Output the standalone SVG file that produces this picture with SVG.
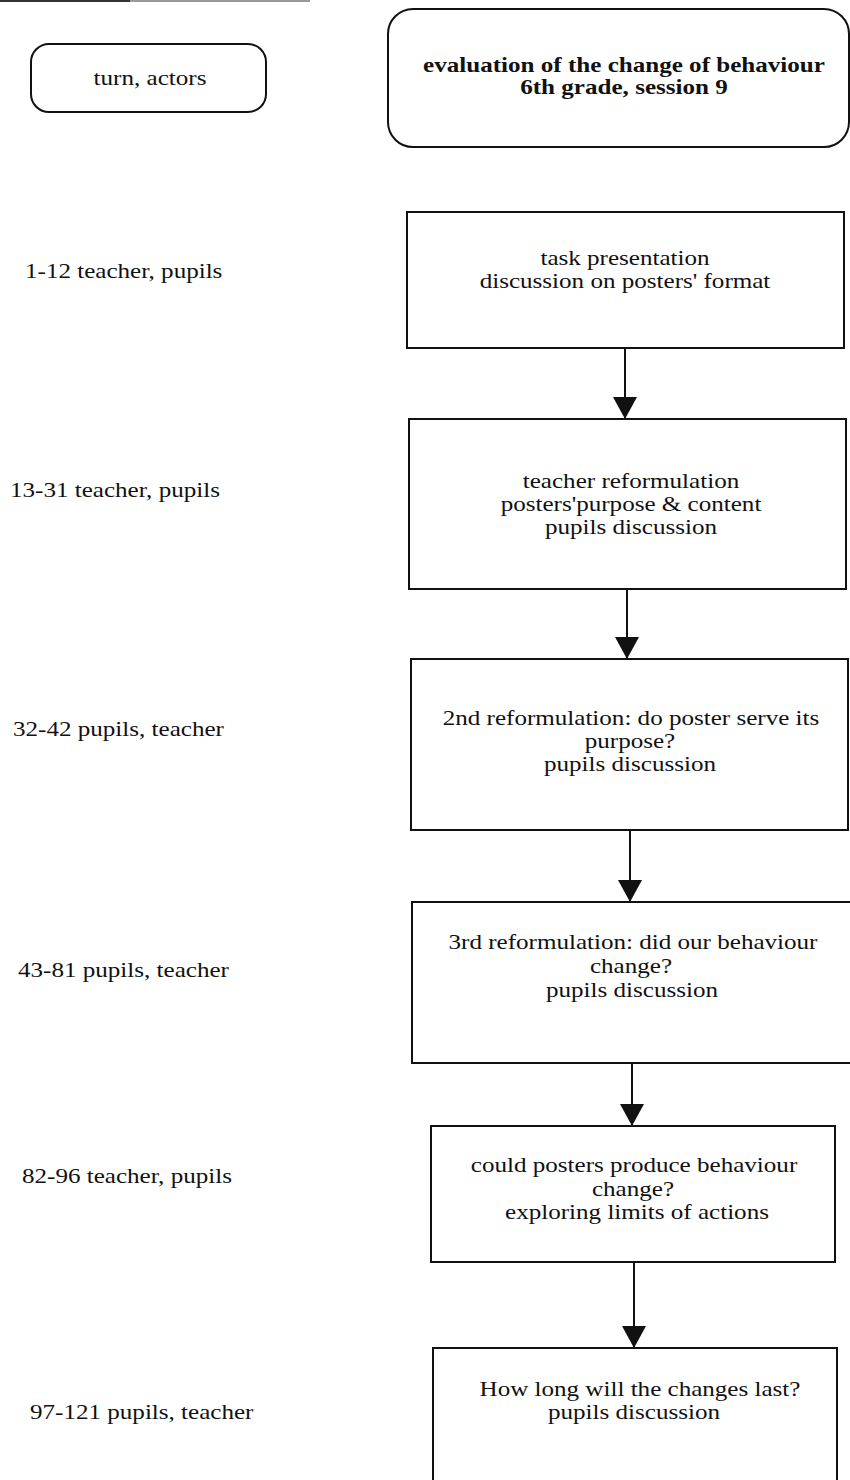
<svg xmlns="http://www.w3.org/2000/svg" width="850" height="1480" viewBox="0 0 850 1480">
<style>
.box{fill:#fff;stroke:#111;stroke-width:2}
.t{font-family:"Liberation Serif","Times New Roman",serif;font-size:22px;fill:#111}
.c{text-anchor:middle}
.b{font-weight:bold}
.conn line{stroke:#111;stroke-width:2}
</style>
<defs>
<marker id="ah" markerUnits="userSpaceOnUse" markerWidth="24" markerHeight="24" refX="22" refY="12" orient="auto" viewBox="0 0 24 24">
<path d="M0,0 L22,12 L0,24 z" fill="#111"/>
</marker>
</defs>
<rect width="850" height="1480" fill="#fff"/>
<line x1="0" y1="1" x2="130" y2="1" stroke="#333" stroke-width="2"/>
<line x1="130" y1="1" x2="310" y2="1" stroke="#999" stroke-width="2"/>

<g id="legend">
<rect class="box" x="31" y="44" width="235" height="68" rx="18"/>
<text class="t c" transform="matrix(1.14 0 0 1 150 85)">turn, actors</text>
</g>
<g id="title">
<rect class="box" x="388" y="9" width="461" height="138" rx="25"/>
<text class="t c b" transform="matrix(1.14 0 0 1 624 72)">evaluation of the change of behaviour</text>
<text class="t c b" transform="matrix(1.14 0 0 1 624 94)">6th grade, session 9</text>
</g>

<g id="n1">
<rect class="box" x="407" y="212" width="437" height="136"/>
<text class="t c" transform="matrix(1.14 0 0 1 625 265)">task presentation</text>
<text class="t c" transform="matrix(1.14 0 0 1 625 288)">discussion on posters' format</text>
</g>
<g id="n2">
<rect class="box" x="409" y="419" width="437" height="170"/>
<text class="t c" transform="matrix(1.14 0 0 1 631 488)">teacher reformulation</text>
<text class="t c" transform="matrix(1.14 0 0 1 631 511)">posters'purpose &amp; content</text>
<text class="t c" transform="matrix(1.14 0 0 1 631 534)">pupils discussion</text>
</g>
<g id="n3">
<rect class="box" x="411" y="659" width="437" height="171"/>
<text class="t c" transform="matrix(1.14 0 0 1 631 725)">2nd reformulation: do poster serve its</text>
<text class="t c" transform="matrix(1.14 0 0 1 630 748)">purpose?</text>
<text class="t c" transform="matrix(1.14 0 0 1 630 771)">pupils discussion</text>
</g>
<g id="n4">
<rect class="box" x="412" y="902" width="440" height="161"/>
<text class="t c" transform="matrix(1.14 0 0 1 633 949)">3rd reformulation: did our behaviour</text>
<text class="t c" transform="matrix(1.14 0 0 1 631 973)">change?</text>
<text class="t c" transform="matrix(1.14 0 0 1 632 997)">pupils discussion</text>
</g>
<g id="n5">
<rect class="box" x="431" y="1126" width="404" height="136"/>
<text class="t c" transform="matrix(1.14 0 0 1 634 1172)">could posters produce behaviour</text>
<text class="t c" transform="matrix(1.14 0 0 1 633 1196)">change?</text>
<text class="t c" transform="matrix(1.14 0 0 1 637 1219)">exploring limits of actions</text>
</g>
<g id="n6">
<rect class="box" x="433" y="1348" width="404" height="160"/>
<text class="t c" transform="matrix(1.14 0 0 1 640 1396)">How long will the changes last?</text>
<text class="t c" transform="matrix(1.14 0 0 1 634 1419)">pupils discussion</text>
</g>

<g id="labels">
<text class="t" transform="matrix(1.14 0 0 1 25 278)">1-12 teacher, pupils</text>
<text class="t" transform="matrix(1.14 0 0 1 10 497)">13-31 teacher, pupils</text>
<text class="t" transform="matrix(1.14 0 0 1 13 736)">32-42 pupils, teacher</text>
<text class="t" transform="matrix(1.14 0 0 1 18 977)">43-81 pupils, teacher</text>
<text class="t" transform="matrix(1.14 0 0 1 22 1183)">82-96 teacher, pupils</text>
<text class="t" transform="matrix(1.14 0 0 1 30 1419)">97-121 pupils, teacher</text>
</g>

<g id="connectors" class="conn">
<line x1="625" y1="348" x2="625" y2="419" marker-end="url(#ah)"/>
<line x1="627" y1="589" x2="627" y2="659" marker-end="url(#ah)"/>
<line x1="630" y1="830" x2="630" y2="902" marker-end="url(#ah)"/>
<line x1="632" y1="1063" x2="632" y2="1126" marker-end="url(#ah)"/>
<line x1="634" y1="1262" x2="634" y2="1348" marker-end="url(#ah)"/>
</g>
</svg>
